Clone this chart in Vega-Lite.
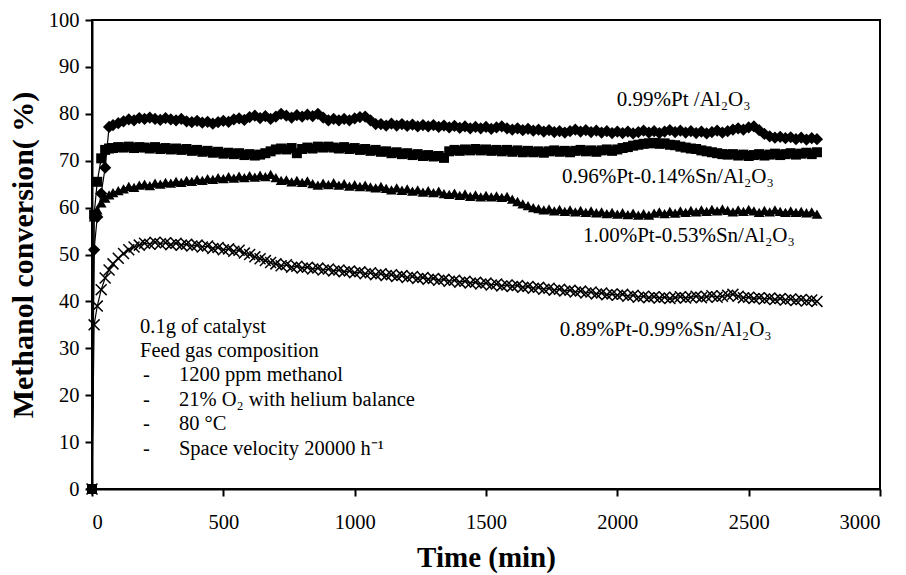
{
  "$schema": "https://vega.github.io/schema/vega-lite/v6.json",
  "width": 788,
  "height": 469,
  "autosize": "none",
  "padding": {"left": 92, "top": 20, "right": 26, "bottom": 86},
  "background": "white",
  "config": {
    "view": {"stroke": "black", "strokeWidth": 2},
    "font": "Liberation Serif",
    "axis": {
      "domainColor": "black", "domainWidth": 2, "tickColor": "black", "tickWidth": 2, "tickSize": 7,
      "labelFont": "Liberation Serif", "labelFontSize": 20.5, "labelColor": "black", "labelPadding": 6,
      "titleFont": "Liberation Serif", "titleFontSize": 29, "titleFontWeight": "bold", "titleColor": "black",
      "grid": false
    }
  },
  "datasets": {
    "runs": [
      {"t":0,"a":0,"b":0,"c":0,"d":0},
      {"t":8,"a":51,"b":58.5,"c":58,"d":35},
      {"t":20,"a":58,"b":65.5,"c":59.5,"d":39},
      {"t":35,"a":63,"b":70.5,"c":61,"d":42.5},
      {"t":50,"a":68.5,"b":72.3,"c":62,"d":45},
      {"t":65,"a":77.2,"b":72.6,"c":62.7,"d":46.7},
      {"t":80,"a":77.6,"b":72.7,"c":63.2,"d":48},
      {"t":100,"a":78.0,"b":72.9,"c":63.6,"d":49.2},
      {"t":120,"a":78.4,"b":72.8,"c":64.0,"d":50.2},
      {"t":140,"a":78.8,"b":73.0,"c":64.5,"d":51.0},
      {"t":160,"a":78.6,"b":72.7,"c":64.3,"d":51.6},
      {"t":180,"a":79.1,"b":72.9,"c":64.8,"d":52.0},
      {"t":200,"a":78.9,"b":72.8,"c":65.0,"d":52.4},
      {"t":220,"a":79.2,"b":72.6,"c":64.7,"d":52.2},
      {"t":240,"a":78.9,"b":72.9,"c":65.2,"d":52.6},
      {"t":260,"a":78.7,"b":72.5,"c":65.0,"d":52.3},
      {"t":280,"a":79.1,"b":72.7,"c":65.4,"d":52.5},
      {"t":300,"a":78.8,"b":72.4,"c":65.2,"d":52.1},
      {"t":320,"a":78.6,"b":72.6,"c":65.6,"d":52.4},
      {"t":340,"a":78.9,"b":72.3,"c":65.4,"d":52.0},
      {"t":360,"a":78.4,"b":72.5,"c":65.8,"d":52.2},
      {"t":380,"a":78.2,"b":72.1,"c":65.6,"d":51.8},
      {"t":400,"a":78.5,"b":72.3,"c":66.0,"d":52.0},
      {"t":420,"a":78.1,"b":71.9,"c":65.8,"d":51.6},
      {"t":440,"a":78.3,"b":72.1,"c":66.2,"d":51.8},
      {"t":460,"a":77.9,"b":71.7,"c":66.0,"d":51.3},
      {"t":480,"a":78.2,"b":71.9,"c":66.4,"d":51.5},
      {"t":500,"a":78.5,"b":71.5,"c":66.2,"d":51.0},
      {"t":520,"a":78.3,"b":71.7,"c":66.6,"d":51.2},
      {"t":540,"a":78.8,"b":71.4,"c":66.3,"d":50.7},
      {"t":560,"a":79.0,"b":71.6,"c":66.7,"d":50.9},
      {"t":580,"a":78.7,"b":71.2,"c":66.4,"d":50.3},
      {"t":600,"a":79.3,"b":71.4,"c":66.8,"d":50.0},
      {"t":620,"a":79.6,"b":71.1,"c":66.5,"d":49.5},
      {"t":640,"a":79.1,"b":71.3,"c":66.9,"d":49.1},
      {"t":660,"a":79.5,"b":71.6,"c":66.6,"d":48.7},
      {"t":680,"a":78.9,"b":72.0,"c":67.1,"d":48.3},
      {"t":700,"a":79.4,"b":72.4,"c":66.4,"d":48.0},
      {"t":720,"a":80.0,"b":72.6,"c":65.8,"d":47.6},
      {"t":740,"a":79.6,"b":72.4,"c":65.9,"d":47.8},
      {"t":760,"a":79.2,"b":72.7,"c":65.5,"d":47.3},
      {"t":780,"a":79.7,"b":71.6,"c":65.8,"d":47.5},
      {"t":800,"a":79.4,"b":72.5,"c":65.4,"d":47.1},
      {"t":820,"a":79.8,"b":72.8,"c":65.7,"d":47.3},
      {"t":840,"a":79.5,"b":72.6,"c":65.1,"d":46.9},
      {"t":860,"a":80.0,"b":73.0,"c":64.8,"d":47.1},
      {"t":880,"a":79.2,"b":72.8,"c":65.2,"d":46.7},
      {"t":900,"a":78.6,"b":73.0,"c":64.9,"d":46.9},
      {"t":920,"a":78.9,"b":72.8,"c":65.3,"d":46.5},
      {"t":940,"a":78.6,"b":72.6,"c":64.8,"d":46.7},
      {"t":960,"a":78.9,"b":72.9,"c":65.1,"d":46.3},
      {"t":980,"a":78.6,"b":72.5,"c":64.6,"d":46.5},
      {"t":1000,"a":79.0,"b":72.7,"c":64.9,"d":46.1},
      {"t":1020,"a":79.3,"b":72.3,"c":64.5,"d":46.3},
      {"t":1040,"a":79.4,"b":72.5,"c":64.8,"d":45.9},
      {"t":1060,"a":78.6,"b":72.1,"c":64.4,"d":46.1},
      {"t":1080,"a":77.8,"b":72.3,"c":64.2,"d":45.7},
      {"t":1100,"a":77.8,"b":71.9,"c":64.5,"d":45.9},
      {"t":1120,"a":77.5,"b":72.0,"c":64.1,"d":45.5},
      {"t":1140,"a":77.9,"b":71.6,"c":63.8,"d":45.7},
      {"t":1160,"a":77.5,"b":71.8,"c":64.2,"d":45.3},
      {"t":1180,"a":77.8,"b":71.4,"c":63.7,"d":45.5},
      {"t":1200,"a":77.4,"b":71.6,"c":64.0,"d":45.1},
      {"t":1220,"a":77.7,"b":71.2,"c":63.5,"d":45.3},
      {"t":1240,"a":77.3,"b":71.4,"c":63.8,"d":44.9},
      {"t":1260,"a":77.6,"b":71.0,"c":63.3,"d":45.1},
      {"t":1280,"a":77.3,"b":71.2,"c":63.6,"d":44.7},
      {"t":1300,"a":77.6,"b":70.9,"c":63.2,"d":44.9},
      {"t":1320,"a":77.2,"b":71.0,"c":63.5,"d":44.5},
      {"t":1340,"a":77.5,"b":70.6,"c":63.0,"d":44.7},
      {"t":1360,"a":77.1,"b":72.0,"c":62.8,"d":44.3},
      {"t":1380,"a":77.4,"b":72.3,"c":63.1,"d":44.5},
      {"t":1400,"a":77.0,"b":72.1,"c":62.6,"d":44.1},
      {"t":1420,"a":77.3,"b":72.4,"c":62.9,"d":44.3},
      {"t":1440,"a":76.9,"b":72.2,"c":62.4,"d":43.9},
      {"t":1460,"a":77.2,"b":72.5,"c":62.7,"d":44.1},
      {"t":1480,"a":76.9,"b":72.2,"c":62.3,"d":43.7},
      {"t":1500,"a":77.2,"b":72.4,"c":62.6,"d":43.9},
      {"t":1520,"a":76.8,"b":72.1,"c":62.3,"d":43.5},
      {"t":1540,"a":77.1,"b":72.3,"c":62.5,"d":43.7},
      {"t":1560,"a":77.3,"b":72.0,"c":62.2,"d":43.3},
      {"t":1580,"a":76.9,"b":72.3,"c":62.4,"d":43.5},
      {"t":1600,"a":76.6,"b":71.9,"c":61.8,"d":43.2},
      {"t":1620,"a":76.9,"b":72.2,"c":61.3,"d":43.4},
      {"t":1640,"a":76.5,"b":71.8,"c":60.8,"d":43.0},
      {"t":1660,"a":76.8,"b":72.1,"c":60.4,"d":43.2},
      {"t":1680,"a":76.4,"b":71.8,"c":60.0,"d":42.8},
      {"t":1700,"a":76.6,"b":72.0,"c":59.8,"d":43.0},
      {"t":1720,"a":76.2,"b":71.7,"c":59.5,"d":42.6},
      {"t":1740,"a":76.5,"b":72.0,"c":59.7,"d":42.8},
      {"t":1760,"a":76.1,"b":72.2,"c":59.3,"d":42.4},
      {"t":1780,"a":76.3,"b":71.9,"c":59.6,"d":42.6},
      {"t":1800,"a":76.0,"b":72.1,"c":59.2,"d":42.2},
      {"t":1820,"a":76.3,"b":71.8,"c":59.5,"d":42.4},
      {"t":1840,"a":76.6,"b":72.1,"c":59.1,"d":42.0},
      {"t":1860,"a":76.2,"b":72.3,"c":59.4,"d":42.2},
      {"t":1880,"a":76.5,"b":72.0,"c":59.0,"d":41.8},
      {"t":1900,"a":76.1,"b":72.2,"c":59.3,"d":42.0},
      {"t":1920,"a":76.4,"b":71.9,"c":58.9,"d":41.6},
      {"t":1940,"a":76.0,"b":72.2,"c":59.1,"d":41.8},
      {"t":1960,"a":76.3,"b":72.4,"c":58.7,"d":41.4},
      {"t":1980,"a":75.9,"b":72.1,"c":59.0,"d":41.6},
      {"t":2000,"a":76.2,"b":72.4,"c":58.6,"d":41.3},
      {"t":2020,"a":75.9,"b":72.7,"c":58.9,"d":41.5},
      {"t":2040,"a":76.2,"b":72.9,"c":58.5,"d":41.1},
      {"t":2060,"a":75.8,"b":73.2,"c":58.8,"d":41.3},
      {"t":2080,"a":76.1,"b":73.4,"c":58.4,"d":40.9},
      {"t":2100,"a":76.4,"b":73.6,"c":58.7,"d":41.1},
      {"t":2120,"a":76.0,"b":73.7,"c":58.4,"d":40.8},
      {"t":2140,"a":76.3,"b":73.8,"c":58.8,"d":41.0},
      {"t":2160,"a":75.9,"b":73.6,"c":59.1,"d":40.7},
      {"t":2180,"a":76.2,"b":73.7,"c":58.7,"d":40.9},
      {"t":2200,"a":76.5,"b":73.4,"c":59.2,"d":40.6},
      {"t":2220,"a":76.1,"b":73.3,"c":58.8,"d":40.8},
      {"t":2240,"a":76.4,"b":73.0,"c":59.3,"d":41.0},
      {"t":2260,"a":76.0,"b":72.8,"c":59.0,"d":40.7},
      {"t":2280,"a":76.3,"b":72.6,"c":59.4,"d":40.9},
      {"t":2300,"a":75.9,"b":72.5,"c":59.1,"d":41.1},
      {"t":2320,"a":76.2,"b":72.2,"c":59.5,"d":40.8},
      {"t":2340,"a":75.8,"b":72.0,"c":59.2,"d":41.0},
      {"t":2360,"a":76.1,"b":71.8,"c":59.6,"d":41.2},
      {"t":2380,"a":76.4,"b":71.6,"c":59.3,"d":40.9},
      {"t":2400,"a":76.0,"b":71.4,"c":59.7,"d":41.1},
      {"t":2420,"a":76.3,"b":71.3,"c":59.4,"d":41.3},
      {"t":2440,"a":76.6,"b":71.4,"c":59.1,"d":41.5},
      {"t":2460,"a":76.9,"b":71.1,"c":59.5,"d":41.1},
      {"t":2480,"a":76.6,"b":71.3,"c":59.2,"d":40.8},
      {"t":2500,"a":77.1,"b":71.0,"c":59.6,"d":40.9},
      {"t":2520,"a":77.3,"b":71.2,"c":59.3,"d":40.6},
      {"t":2540,"a":76.5,"b":71.4,"c":59.0,"d":40.8},
      {"t":2560,"a":75.7,"b":71.1,"c":59.4,"d":40.5},
      {"t":2580,"a":75.2,"b":71.3,"c":59.1,"d":40.7},
      {"t":2600,"a":74.9,"b":71.5,"c":59.5,"d":40.4},
      {"t":2620,"a":75.1,"b":71.2,"c":59.2,"d":40.6},
      {"t":2640,"a":74.8,"b":71.4,"c":59.0,"d":40.3},
      {"t":2660,"a":75.0,"b":71.6,"c":59.3,"d":40.5},
      {"t":2680,"a":74.6,"b":71.3,"c":59.0,"d":40.2},
      {"t":2700,"a":74.9,"b":71.5,"c":59.2,"d":40.4},
      {"t":2720,"a":74.5,"b":71.7,"c":58.9,"d":40.1},
      {"t":2740,"a":74.8,"b":71.4,"c":59.1,"d":40.3},
      {"t":2760,"a":74.6,"b":71.8,"c":58.6,"d":40.0}
    ],
    "labels": [
      {"x": 1998, "y": 83, "text": "0.99%Pt /Al₂O₃"},
      {"x": 1789, "y": 66.5, "text": "0.96%Pt-0.14%Sn/Al₂O₃"},
      {"x": 1869, "y": 54, "text": "1.00%Pt-0.53%Sn/Al₂O₃"},
      {"x": 1781, "y": 34, "text": "0.89%Pt-0.99%Sn/Al₂O₃"}
    ],
    "notes": [
      {"x": 183, "y": 34.5, "text": "0.1g of catalyst"},
      {"x": 183, "y": 29.4, "text": "Feed gas composition"},
      {"x": 194, "y": 24.3, "text": "-"},
      {"x": 331, "y": 24.3, "text": "1200 ppm methanol"},
      {"x": 194, "y": 18.9, "text": "-"},
      {"x": 331, "y": 18.9, "text": "21% O₂ with helium balance"},
      {"x": 194, "y": 13.9, "text": "-"},
      {"x": 331, "y": 13.9, "text": "80 °C"},
      {"x": 194, "y": 8.5, "text": "-"},
      {"x": 331, "y": 8.5, "text": "Space velocity 20000 h⁻¹"}
    ]
  },
  "layer": [
    {
      "data": {"name": "runs"},
      "layer": [
        {"mark": {"type": "line", "color": "black", "strokeWidth": 1.2},
         "encoding": {
           "x": {"field": "t", "type": "quantitative", "scale": {"domain": [0, 3000]}, "axis": {"values": [0,500,1000,1500,2000,2500,3000], "format": "d", "labelPadding": 16, "title": "Time (min)", "titlePadding": 11}},
           "y": {"field": "a", "type": "quantitative", "scale": {"domain": [0, 100]}, "axis": {"values": [0,10,20,30,40,50,60,70,80,90,100], "title": "Methanol conversion( %)", "titlePadding": 10, "titleFontSize": 30}}}},
        {"mark": {"type": "point", "shape": "diamond", "filled": true, "color": "black", "size": 150, "opacity": 1},
         "encoding": {"x": {"field": "t", "type": "quantitative"}, "y": {"field": "a", "type": "quantitative"}}},
        {"mark": {"type": "line", "color": "black", "strokeWidth": 1.2},
         "encoding": {"x": {"field": "t", "type": "quantitative"}, "y": {"field": "b", "type": "quantitative"}}},
        {"mark": {"type": "point", "shape": "square", "filled": true, "color": "black", "size": 100, "opacity": 1},
         "encoding": {"x": {"field": "t", "type": "quantitative"}, "y": {"field": "b", "type": "quantitative"}}},
        {"mark": {"type": "line", "color": "black", "strokeWidth": 1.2},
         "encoding": {"x": {"field": "t", "type": "quantitative"}, "y": {"field": "c", "type": "quantitative"}}},
        {"mark": {"type": "point", "shape": "triangle-up", "filled": true, "color": "black", "size": 115, "opacity": 1},
         "encoding": {"x": {"field": "t", "type": "quantitative"}, "y": {"field": "c", "type": "quantitative"}}},
        {"mark": {"type": "line", "color": "black", "strokeWidth": 1.2},
         "encoding": {"x": {"field": "t", "type": "quantitative"}, "y": {"field": "d", "type": "quantitative"}}},
        {"mark": {"type": "point", "shape": "M-1,-1L1,1M-1,1L1,-1", "filled": false, "stroke": "black", "strokeWidth": 1.5, "size": 120, "opacity": 1},
         "encoding": {"x": {"field": "t", "type": "quantitative"}, "y": {"field": "d", "type": "quantitative"}}}
      ]
    },
    {
      "data": {"name": "labels"},
      "mark": {"type": "text", "align": "left", "baseline": "middle", "font": "Liberation Serif", "fontSize": 21, "color": "black"},
      "encoding": {
        "x": {"field": "x", "type": "quantitative"},
        "y": {"field": "y", "type": "quantitative"},
        "text": {"field": "text"}
      }
    },
    {
      "data": {"name": "notes"},
      "mark": {"type": "text", "align": "left", "baseline": "middle", "font": "Liberation Serif", "fontSize": 20.5, "color": "black"},
      "encoding": {
        "x": {"field": "x", "type": "quantitative"},
        "y": {"field": "y", "type": "quantitative"},
        "text": {"field": "text"}
      }
    }
  ]
}
